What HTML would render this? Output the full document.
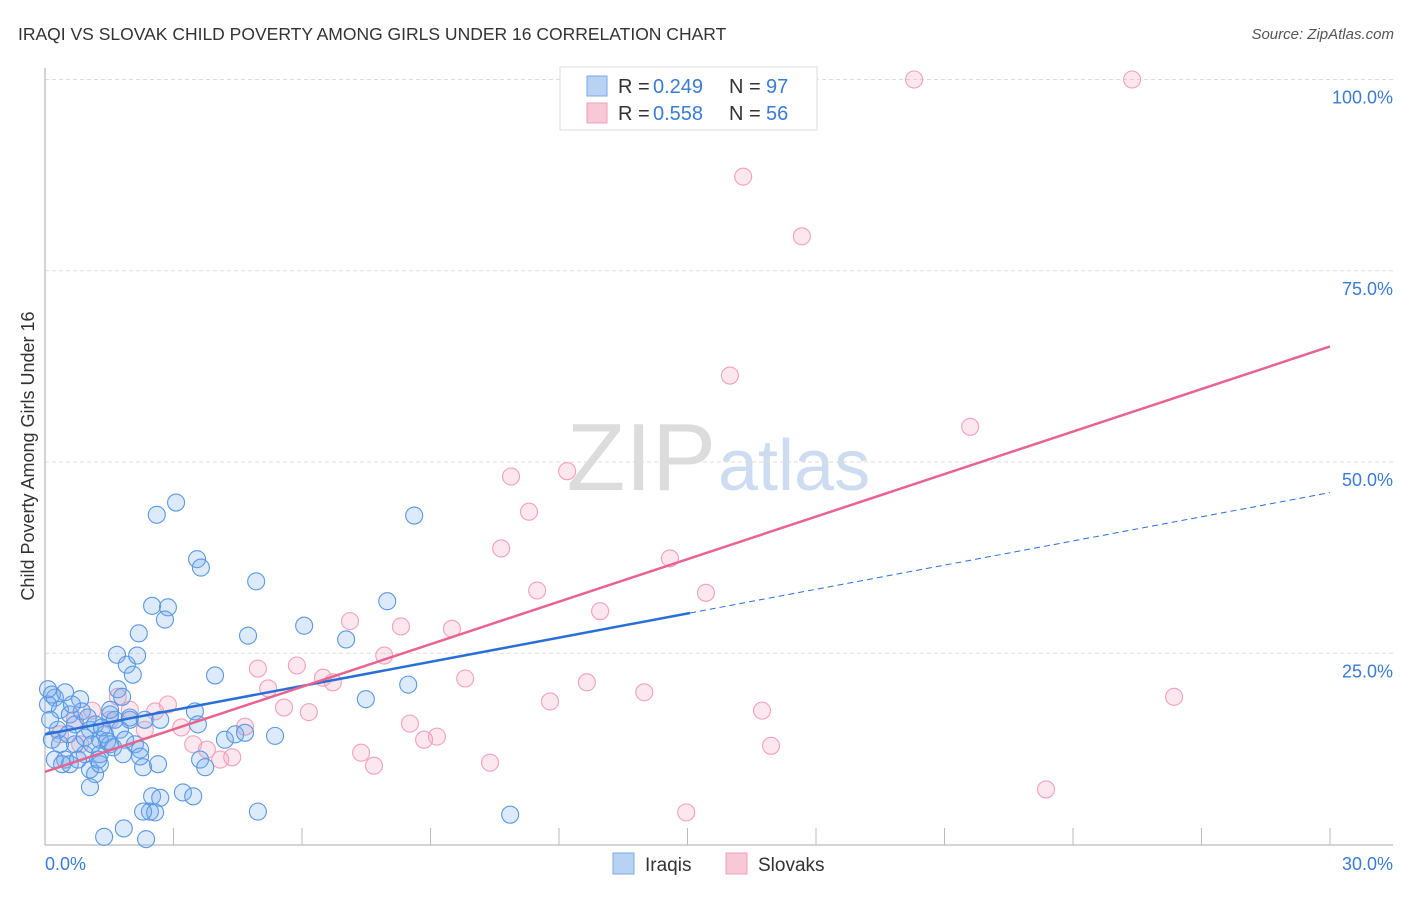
<!DOCTYPE html>
<html><head><meta charset="utf-8"><style>
body{margin:0;background:#fff;font-family:"Liberation Sans",sans-serif}
svg text{font-family:"Liberation Sans",sans-serif}
</style></head><body>
<svg id="chart" width="1406" height="892">
<text x="18" y="40" font-size="17.5" fill="#333">IRAQI VS SLOVAK CHILD POVERTY AMONG GIRLS UNDER 16 CORRELATION CHART</text>
<text x="1394" y="39" font-size="15" fill="#555" font-style="italic" text-anchor="end">Source: ZipAtlas.com</text>
<text x="716" y="490" font-size="96" fill="#dcdcdc" text-anchor="end" font-family="Liberation Serif">ZIP</text>
<text x="718" y="490" font-size="72" fill="#cddcf0">atlas</text>
<g id="grid"></g>
<g id="axes"></g>
<g id="pts"></g>
<g id="lines"></g>
<text transform="translate(34,456) rotate(-90)" font-size="18" fill="#333" text-anchor="middle">Child Poverty Among Girls Under 16</text>
<g>
<rect x="560" y="67" width="257" height="63" fill="#fff" stroke="#ddd"/>
<rect x="587" y="76" width="20" height="20" fill="#b8d2f4" stroke="#7aaae6"/>
<rect x="587" y="103" width="20" height="20" fill="#f9c8d6" stroke="#f0a0b8"/>
<text x="618" y="93" font-size="20" fill="#333">R =</text>
<text x="653" y="93" font-size="20" fill="#3a7bd5">0.249</text>
<text x="729" y="93" font-size="20" fill="#333">N =</text>
<text x="766" y="93" font-size="20" fill="#3a7bd5">97</text>
<text x="618" y="120" font-size="20" fill="#333">R =</text>
<text x="653" y="120" font-size="20" fill="#3a7bd5">0.558</text>
<text x="729" y="120" font-size="20" fill="#333">N =</text>
<text x="766" y="120" font-size="20" fill="#3a7bd5">56</text>
</g>
<g>
<rect x="613" y="853" width="21" height="21" fill="#b8d2f4" stroke="#7aaae6"/>
<text x="645" y="871" font-size="19" fill="#333">Iraqis</text></g>
<g>
<rect x="726" y="853" width="21" height="21" fill="#f9c8d6" stroke="#f0a0b8"/>
<text x="758" y="871" font-size="19" fill="#333">Slovaks</text></g>
</svg>
<script>
const blueX=[0.16,0.23,0.07,0.35,0.47,0.12,0.3,0.58,0.7,0.82,0.86,1.0,1.05,1.17,1.28,1.4,1.52,1.63,1.75,1.87,1.98,2.1,2.22,0.07,0.16,0.35,0.47,0.58,0.7,0.93,1.05,1.17,1.28,1.52,1.68,1.91,2.05,2.15,2.19,2.5,2.87,2.8,2.61,3.06,3.55,3.64,4.93,4.74,3.97,1.7,1.8,1.52,1.98,2.33,2.69,3.5,3.57,2.29,2.64,3.62,3.74,4.2,4.44,4.67,5.37,6.05,7.03,7.99,8.62,8.48,7.49,1.05,2.5,2.69,2.45,2.57,3.22,3.46,2.29,4.97,1.38,1.84,2.36,10.86,0.23,0.4,0.77,1.28,1.45,0.54,0.63,0.93,1.1,1.24,1.33,1.59,1.82,2.22];
const blueY=[19.6,19.2,18.3,17.6,19.9,16.3,15.0,17.0,15.7,19.0,17.4,16.6,15.0,15.7,13.7,14.4,17.0,16.3,15.0,13.7,16.3,13.1,12.4,20.3,13.7,13.1,11.1,10.5,13.1,11.8,9.8,9.2,10.5,13.1,24.8,23.5,22.2,24.7,27.6,31.2,31.0,29.4,43.1,44.7,37.3,36.2,34.4,27.3,22.1,20.3,19.3,17.6,16.6,16.3,16.3,17.4,15.7,10.1,10.5,11.1,10.1,13.7,14.4,14.6,14.2,28.6,26.8,31.8,43.0,20.9,19.0,7.5,6.3,6.1,4.3,4.2,6.8,6.3,4.3,4.3,1.0,2.1,0.7,3.9,11.1,10.5,11.1,11.8,13.5,14.4,18.3,14.0,13.1,11.1,15.3,12.7,11.8,11.5];
const pinkX=[20.29,25.38,16.3,17.67,15.99,21.6,12.19,10.88,11.3,10.65,14.59,11.49,15.43,12.96,7.12,8.31,9.5,4.97,5.88,6.49,6.72,7.92,9.81,12.65,13.99,26.36,5.21,5.58,6.16,11.79,16.74,16.95,8.52,9.15,8.85,10.39,7.38,7.68,3.46,3.78,4.09,4.37,4.67,3.18,2.87,2.57,2.33,1.7,1.1,0.7,0.35,0.82,23.37,14.97,1.52,1.98];
const pinkY=[100,100,87.3,79.5,61.3,54.6,48.8,48.1,43.5,38.7,37.4,33.2,32.9,30.5,29.2,28.5,28.2,23.0,23.4,21.8,21.2,24.7,21.7,21.2,19.9,19.3,20.4,17.9,17.3,18.7,17.5,12.9,15.8,14.1,13.7,10.7,12.0,10.3,13.1,12.4,11.1,11.4,15.4,15.3,18.3,17.4,15.0,19.3,17.5,16.3,14.4,13.1,7.2,4.2,16.3,17.6];
const yTicks=[25,50,75,100];
const yTickLabels=["25.0%","50.0%","75.0%","100.0%"];
const xTicks=[3,6,9,12,15,18,21,24,27,30];
const blueTrend=[14.4,46.0], blueSolidEnd=15.06;
const pinkTrend=[9.5,65.1];
const NS="http://www.w3.org/2000/svg";
const X=v=>45+v*1285/30, Y=v=>844.5-v*7.65;
function mk(tag,attrs,parent){const e=document.createElementNS(NS,tag);for(const k in attrs)e.setAttribute(k,attrs[k]);document.getElementById(parent).appendChild(e);return e;}
yTicks.forEach((t,i)=>{
 const l=mk('line',{x1:45,x2:1393,y1:Y(t),y2:Y(t),stroke:'#ddd','stroke-dasharray':'4,3'},'grid');
 
 
 const tx=mk('text',{x:1393,y:Y(t)+24,'font-size':18,fill:'#3a7bd5','text-anchor':'end'},'grid');
 tx.textContent=yTickLabels[i];
 
 
});
let a=mk('line',{x1:45,x2:45,y1:68,y2:845,stroke:'#aaa'},'axes');


a=mk('line',{x1:45,x2:1393,y1:845,y2:845,stroke:'#aaa'},'axes');


xTicks.forEach(t=>{const l=mk('line',{x1:X(t),x2:X(t),y1:828,y2:845,stroke:'#bbb'},'axes');
 
 });
let t0=mk('text',{x:45,y:870,'font-size':18,fill:'#3a7bd5'},'axes');t0.textContent='0.0%';


t0=mk('text',{x:1393,y:870,'font-size':18,fill:'#3a7bd5','text-anchor':'end'},'axes');t0.textContent='30.0%';


pinkX.forEach((x,i)=>{const c=mk('circle',{cx:X(x),cy:Y(pinkY[i]),r:8.5,fill:'rgba(246,170,195,0.28)',stroke:'#f2a0bb','stroke-width':1.1},'pts');
 
 });
blueX.forEach((x,i)=>{const c=mk('circle',{cx:X(x),cy:Y(blueY[i]),r:8.5,fill:'rgba(120,170,235,0.25)',stroke:'#5a98e4','stroke-width':1.1},'pts');
 
 });
const by=x=>blueTrend[0]+(blueTrend[1]-blueTrend[0])*x/30;
let ln=mk('line',{x1:X(0),y1:Y(by(0)),x2:X(blueSolidEnd),y2:Y(by(blueSolidEnd)),stroke:'#2a6fd6','stroke-width':2.5},'lines');


ln=mk('line',{x1:X(blueSolidEnd),y1:Y(by(blueSolidEnd)),x2:X(30),y2:Y(by(30)),stroke:'#2a6fd6','stroke-width':1,'stroke-dasharray':'6,4'},'lines');


ln=mk('line',{x1:X(0),y1:Y(pinkTrend[0]),x2:X(30),y2:Y(pinkTrend[1]),stroke:'#e8648e','stroke-width':2.5},'lines');


</script>
</body></html>
